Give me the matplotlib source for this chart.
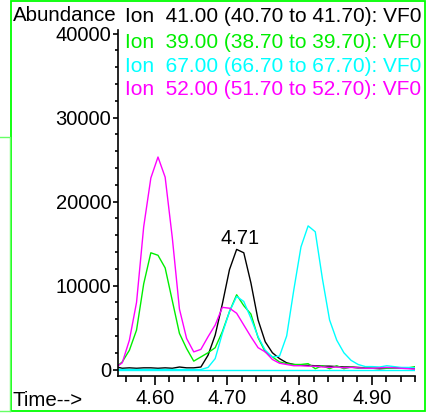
import matplotlib
matplotlib.use("Agg")
import matplotlib.pyplot as plt
from matplotlib.lines import Line2D
from matplotlib.patches import Rectangle
from matplotlib.ticker import MultipleLocator
import numpy as np

plt.rcParams['font.family'] = ['Liberation Sans', 'DejaVu Sans']

# Scan times (min)
time = [4.5447, 4.5546, 4.5645, 4.5744, 4.5843, 4.5942, 4.6041, 4.6140, 4.6239, 4.6338,
        4.6437, 4.6536, 4.6635, 4.6734, 4.6833, 4.6932, 4.7031, 4.7130, 4.7229, 4.7328,
        4.7427, 4.7526, 4.7625, 4.7724, 4.7823, 4.7922, 4.8021, 4.8120, 4.8219, 4.8318,
        4.8417, 4.8516, 4.8615, 4.8714, 4.8813, 4.8912, 4.9011, 4.9110, 4.9209, 4.9308,
        4.9407, 4.9506, 4.9605]

ion41 = [350, 150, 200, 150, 200, 200, 150, 200, 150, 300,
         200, 200, 300, 1700, 4100, 7800, 11900, 14300, 13900, 10300,
         5900, 3300, 2000, 1300, 800, 600, 500, 500, 450, 400,
         400, 350, 300, 300, 250, 200, 150, 100, 150, 200,
         200, 150, 100]

ion39 = [200, 900, 2300, 4700, 10200, 13900, 13600, 12100, 8200, 4300,
         2500, 1000, 1500, 2000, 2600, 4500, 6900, 8900, 7600, 6600,
         3800, 2100, 1500, 900, 700, 600, 600, 700, 100, 450,
         100, 450, 100, 300, 150, 200, 150, 200, 150, 150,
         150, 200, 350]

ion67 = [0, 0, 0, 0, 0, 0, 0, 0, 0, 0,
         0, 0, 0, 250, 1300, 4300, 6900, 8700, 8100, 6100,
         3900, 2300, 1500, 1600, 4000, 9500, 14600, 17100, 16400, 10800,
         5900, 3500, 2000, 1100, 600, 350, 350, 300, 450, 350,
         250, 250, 200]

ion52 = [200, 800, 3500, 8000, 17000, 22800, 25300, 22900, 15700, 7200,
         3700, 2100, 2400, 3900, 5300, 7400, 7300, 6700, 5300, 3900,
         2600, 2100, 1200, 750, 600, 450, 450, 400, 400, 300,
         250, 300, 200, 250, 200, 150, 150, 200, 250, 200,
         150, 100, 50]

legend_labels = ["Ion  41.00 (40.70 to 41.70): VF0",
                 "Ion  39.00 (38.70 to 39.70): VF0",
                 "Ion  67.00 (66.70 to 67.70): VF0",
                 "Ion  52.00 (51.70 to 52.70): VF0"]
colors = ['#000000', '#00ee00', '#00ffff', '#ff00ff']
xticks = [4.60, 4.70, 4.80, 4.90]
yticks = [0, 10000, 20000, 30000, 40000]

W, H = 427, 413
fig = plt.figure(figsize=(W / 100, H / 100), dpi=100)

def fx(px):
    return px / W

def fy(py):
    return 1 - py / H

ax = fig.add_axes([fx(117.7), fy(376), fx(415) - fx(117.7), fy(30) - fy(376)])

ax.axhline(0, color='#00ffff', lw=1.0, zorder=1)
series = [ion41, ion39, ion67, ion52]
for vals, c in zip(series, colors):
    ax.plot(time, vals, color=c, lw=1.0, zorder=2)

ax.set_xlim(4.5483, 4.96)
ax.set_ylim(-770, 40420)
ax.set_xticks(xticks)
ax.set_xticklabels([f"{v:.2f}" for v in xticks])
ax.set_yticks(yticks)
ax.set_yticklabels([str(v) for v in yticks])
ax.xaxis.set_minor_locator(MultipleLocator(0.02))
ax.yaxis.set_minor_locator(MultipleLocator(2000))
for s in ['top', 'right']:
    ax.spines[s].set_visible(False)
for s in ['left', 'bottom']:
    ax.spines[s].set_linewidth(1.2)
ax.tick_params(axis='x', which='major', length=6.5, width=1.2, pad=3, labelsize=14.5)
ax.tick_params(axis='x', which='minor', length=4.3, width=1.2)
ax.tick_params(axis='y', which='major', length=3.6, width=1.2, pad=1, labelsize=14.5)
ax.tick_params(axis='y', which='minor', length=2.0, width=1.2)

# Peak label
i_pk = int(np.argmax(ion41))
ax.annotate(f"{time[i_pk]:.2f}", xy=(time[i_pk], ion41[i_pk]), xytext=(3, 5),
            textcoords='offset pixels', ha='center', va='baseline', fontsize=14.5)

# Header texts
fig.text(fx(12.7), fy(21), "Abundance", fontsize=14.8, va='baseline', ha='left')
baselines = [21.7, 48.3, 71.7, 95]
for lab, c, b in zip(legend_labels, colors, baselines):
    fig.text(fx(125), fy(b), lab, color=c, fontsize=15, va='baseline', ha='left')
fig.text(fx(12.7), fy(406.5), "Time-->", fontsize=14.8, va='baseline', ha='left')

# Frames
fig.patches.append(Rectangle((fx(11.5), fy(411)), fx(425) - fx(11.5), fy(1) - fy(411),
                             transform=fig.transFigure, fill=False, edgecolor='#00ff00',
                             lw=1.3, figure=fig))
fig.lines.append(Line2D([fx(0), fx(10), fx(10)], [fy(137), fy(137), fy(411)],
                        transform=fig.transFigure, color='#66ff66', lw=1.0, figure=fig))
fig.lines.append(Line2D([fx(0), fx(10)], [fy(411), fy(411)],
                        transform=fig.transFigure, color='#66ff66', lw=1.0, figure=fig))

fig.savefig("out.png", dpi=100)
